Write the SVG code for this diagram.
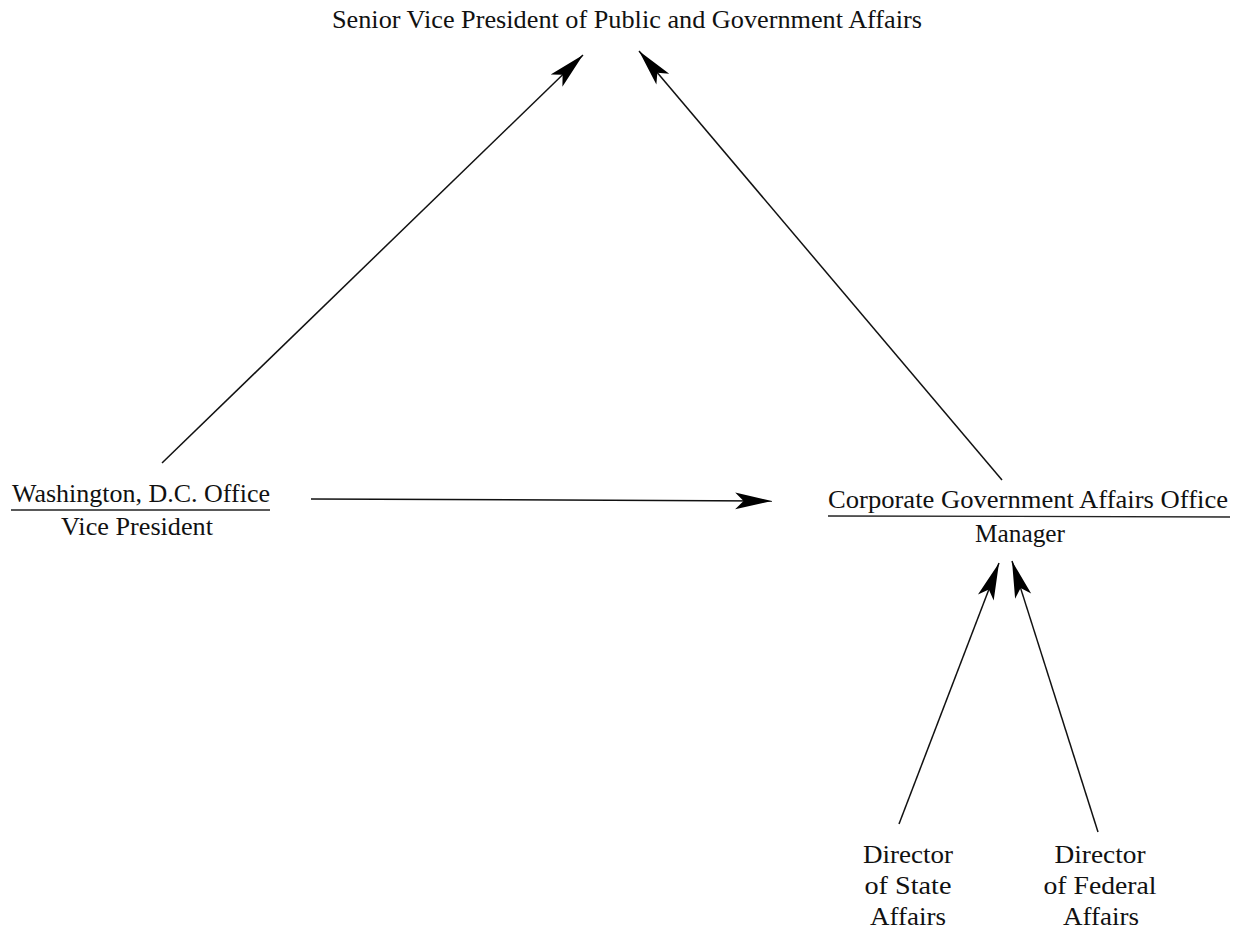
<svg xmlns="http://www.w3.org/2000/svg" width="1238" height="934" viewBox="0 0 1238 934">
<defs>
<marker id="ah" markerUnits="userSpaceOnUse" markerWidth="40" markerHeight="22" viewBox="-36 -9 38 18" refX="0" refY="0" orient="auto">
<path d="M0,0 L-35,-8 L-27,0 L-35,8 Z" fill="#000"/>
</marker>
</defs>
<style>
text{font-family:"Liberation Serif","Times New Roman",serif;font-size:25px;fill:#111}
.s{font-size:26px}
.c{stroke:#111;stroke-width:1.5;fill:none;marker-end:url(#ah)}
.u{stroke:#222;stroke-width:1.3}
</style>
<rect width="1238" height="934" fill="#fff"/>
<g id="svp"><text x="627" y="28" text-anchor="middle" textLength="590" lengthAdjust="spacingAndGlyphs">Senior Vice President of Public and Government Affairs</text></g>
<g id="washington">
<text x="141" y="502" text-anchor="middle" textLength="258" lengthAdjust="spacingAndGlyphs">Washington, D.C. Office</text>
<line class="u" x1="11" y1="510" x2="270" y2="510"/>
<text class="s" x="137" y="535" text-anchor="middle" textLength="152" lengthAdjust="spacingAndGlyphs">Vice President</text>
</g>
<g id="corporate">
<text x="1028" y="508" text-anchor="middle" textLength="400" lengthAdjust="spacingAndGlyphs">Corporate Government Affairs Office</text>
<line class="u" x1="828" y1="516" x2="1230" y2="517"/>
<text class="s" x="1020" y="542" text-anchor="middle" textLength="90" lengthAdjust="spacingAndGlyphs">Manager</text>
</g>
<g id="state">
<text class="s" x="908" y="863" text-anchor="middle" textLength="90" lengthAdjust="spacingAndGlyphs">Director</text>
<text class="s" x="908" y="894" text-anchor="middle" textLength="87" lengthAdjust="spacingAndGlyphs">of State</text>
<text class="s" x="908" y="925" text-anchor="middle" textLength="76" lengthAdjust="spacingAndGlyphs">Affairs</text>
</g>
<g id="federal">
<text class="s" x="1100" y="863" text-anchor="middle" textLength="91" lengthAdjust="spacingAndGlyphs">Director</text>
<text class="s" x="1100" y="894" text-anchor="middle" textLength="113" lengthAdjust="spacingAndGlyphs">of Federal</text>
<text class="s" x="1101" y="925" text-anchor="middle" textLength="76" lengthAdjust="spacingAndGlyphs">Affairs</text>
</g>
<g id="connectors">
<line class="c" x1="162" y1="463" x2="583" y2="55"/>
<line class="c" x1="1002" y1="480" x2="639" y2="51"/>
<line class="c" x1="311" y1="499" x2="772" y2="501"/>
<line class="c" x1="899" y1="824" x2="999" y2="563"/>
<line class="c" x1="1098" y1="832" x2="1012" y2="561"/>
</g>
</svg>
